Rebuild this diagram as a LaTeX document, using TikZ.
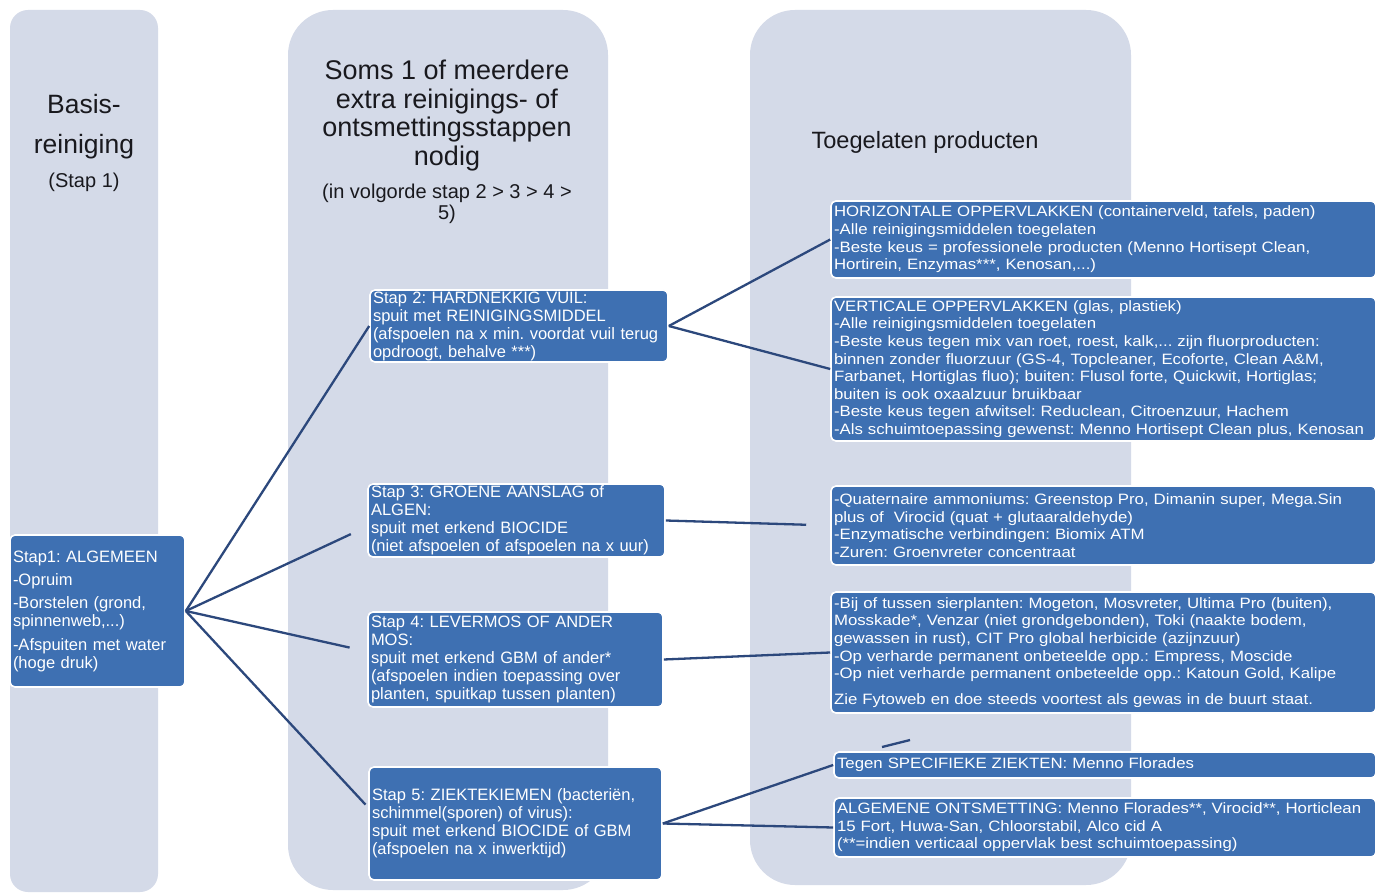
\documentclass[tikz,border=0pt]{standalone}
\usepackage{fontspec}
\setmainfont{Liberation Sans}
\newfontfamily\widefont[FakeStretch=1.12]{Liberation Sans}
\frenchspacing
\definecolor{colbg}{RGB}{212,218,232}
\definecolor{boxblue}{RGB}{62,112,178}
\definecolor{linkblue}{RGB}{44,72,124}
\definecolor{titletext}{RGB}{25,25,30}
\tikzset{
  colbox/.style={fill=colbg, draw=none},
  box/.style={draw=white, line width=1.6pt, fill=boxblue, rounded corners=5pt, text=white,
    align=left, inner xsep=3pt, inner ysep=0pt, anchor=center},
  title/.style={text=titletext, align=center, inner sep=0pt, anchor=center},
  link/.style={draw=linkblue, line width=2.3pt},
}
\newcommand\boxat[7]{%
  \pgfmathsetmacro\bh{#5-#3}%
  \pgfmathsetmacro\tw{#4-#2-6}%
  \pgfmathsetmacro\bcx{(#2+#4)/2}%
  \pgfmathsetmacro\bcy{(#3+#5)/2}%
  \node[box, font=#6, text width=\tw pt, minimum height=\bh pt] (#1) at (\bcx,\bcy) {#7};}
\newcommand\fbig{\fontsize{16.5}{18}\selectfont\frenchspacing}
\newcommand\fsmall{\widefont\fontsize{15}{17.6}\selectfont\frenchspacing}
\begin{document}
\begin{tikzpicture}[x=1pt,y=-1pt]
\useasboundingbox (0,0) rectangle (1385,893);
\fill[white] (0,0) rectangle (1385,893);
% columns
\fill[colbox, rounded corners=18pt] (10,10) rectangle (158,892);
\fill[colbox, rounded corners=45pt] (288,10) rectangle (608,890);
\fill[colbox, rounded corners=45pt] (750,10) rectangle (1131,885);
% titles
\node[title, font=\fontsize{26.5}{40}\selectfont] (t1) at (84,127) {Basis-\\reiniging};
\node[title, font=\fontsize{20}{22}\selectfont] (t1b) at (84,182) {(Stap 1)};
\node[title, font=\fontsize{27}{28.5}\selectfont] (t2) at (447,115.5) {Soms 1 of meerdere\\extra reinigings- of\\ontsmettingsstappen\\nodig};
\node[title, font=\fontsize{20}{21}\selectfont] (t2b) at (447,203.5) {(in volgorde stap 2 > 3 > 4 >\\5)};
\node[title, font=\fontsize{23.6}{26}\selectfont] (t3) at (925,142) {Toegelaten producten};
% step boxes
\boxat{s1}{10}{535}{185}{687}{\fbig}{Stap1: ALGEMEEN\\[5pt]-Opruim\\[5pt]-Borstelen (grond,\\spinnenweb,...)\\[6pt]-Afspuiten met water\\(hoge druk)}
\boxat{s2}{370}{290}{668}{362}{\fbig}{Stap 2: HARDNEKKIG VUIL:\\spuit met REINIGINGSMIDDEL\\(afspoelen na x min. voordat vuil terug\\opdroogt, behalve ***)}
\boxat{s3}{368}{484}{665}{557}{\fbig}{Stap 3: GROENE AANSLAG of\\ALGEN:\\spuit met erkend BIOCIDE\\(niet afspoelen of afspoelen na x uur)}
\boxat{s4}{368}{612}{663}{707}{\fbig}{Stap 4: LEVERMOS OF ANDER\\MOS:\\spuit met erkend GBM of ander*\\(afspoelen indien toepassing over\\planten, spuitkap tussen planten)}
\boxat{s5}{369}{767}{662}{880}{\fbig}{Stap 5: ZIEKTEKIEMEN (bacteriën,\\schimmel(sporen) of virus):\\spuit met erkend BIOCIDE of GBM\\(afspoelen na x inwerktijd)}
% product boxes
\boxat{hor}{831}{201}{1376}{278}{\fsmall}{HORIZONTALE OPPERVLAKKEN (containerveld, tafels, paden)\\-Alle reinigingsmiddelen toegelaten\\-Beste keus = professionele producten (Menno Hortisept Clean,\\Hortirein, Enzymas***, Kenosan,...)}
\boxat{ver}{831}{297}{1376}{441}{\fsmall}{VERTICALE OPPERVLAKKEN (glas, plastiek)\\-Alle reinigingsmiddelen toegelaten\\-Beste keus tegen mix van roet, roest, kalk,... zijn fluorproducten:\\binnen zonder fluorzuur (GS-4, Topcleaner, Ecoforte, Clean A\&M,\\Farbanet, Hortiglas fluo); buiten: Flusol forte, Quickwit, Hortiglas;\\buiten is ook oxaalzuur bruikbaar\\-Beste keus tegen afwitsel: Reduclean, Citroenzuur, Hachem\\-Als schuimtoepassing gewenst: Menno Hortisept Clean plus, Kenosan}
\boxat{qua}{831}{486}{1376}{565}{\fsmall}{-Quaternaire ammoniums: Greenstop Pro, Dimanin super, Mega.Sin\\plus of \ Virocid (quat + glutaaraldehyde)\\-Enzymatische verbindingen: Biomix ATM\\-Zuren: Groenvreter concentraat}
\boxat{bij}{831}{592}{1376}{713}{\fsmall}{-Bij of tussen sierplanten: Mogeton, Mosvreter, Ultima Pro (buiten),\\Mosskade*, Venzar (niet grondgebonden), Toki (naakte bodem,\\gewassen in rust), CIT Pro global herbicide (azijnzuur)\\-Op verharde permanent onbeteelde opp.: Empress, Moscide\\-Op niet verharde permanent onbeteelde opp.: Katoun Gold, Kalipe\\[8pt]Zie Fytoweb en doe steeds voortest als gewas in de buurt staat.}
\boxat{teg}{834}{752}{1376}{778}{\fsmall}{Tegen SPECIFIEKE ZIEKTEN: Menno Florades}
\boxat{alg}{834}{798}{1376}{857}{\fsmall}{ALGEMENE ONTSMETTING: Menno Florades**, Virocid**, Horticlean\\15 Fort, Huwa-San, Chloorstabil, Alco cid A\\(**=indien verticaal oppervlak best schuimtoepassing)}
% connectors
\draw[link] (s1.east) -- (s2.west);
\draw[link, shorten >=18pt] (s1.east) -- ([yshift=-6pt]s3.west);
\draw[link, shorten >=18pt] (s1.east) -- ([yshift=8pt]s4.west);
\draw[link, shorten >=4pt] (s1.east) -- ([yshift=16pt]s5.west);
\draw[link] (s2.east) -- (hor.west);
\draw[link] (s2.east) -- (ver.west);
\draw[link, shorten >=24pt] (s3.east) -- (qua.west);
\draw[link] (s4.east) -- (bij.west);
\draw[link] (s5.east) -- (teg.west);
\draw[link] (s5.east) -- (alg.west);
\coordinate (st1) at (882,747);
\coordinate (st2) at (910,740);
\draw[link] (st1) -- (st2);
\end{tikzpicture}
\end{document}
